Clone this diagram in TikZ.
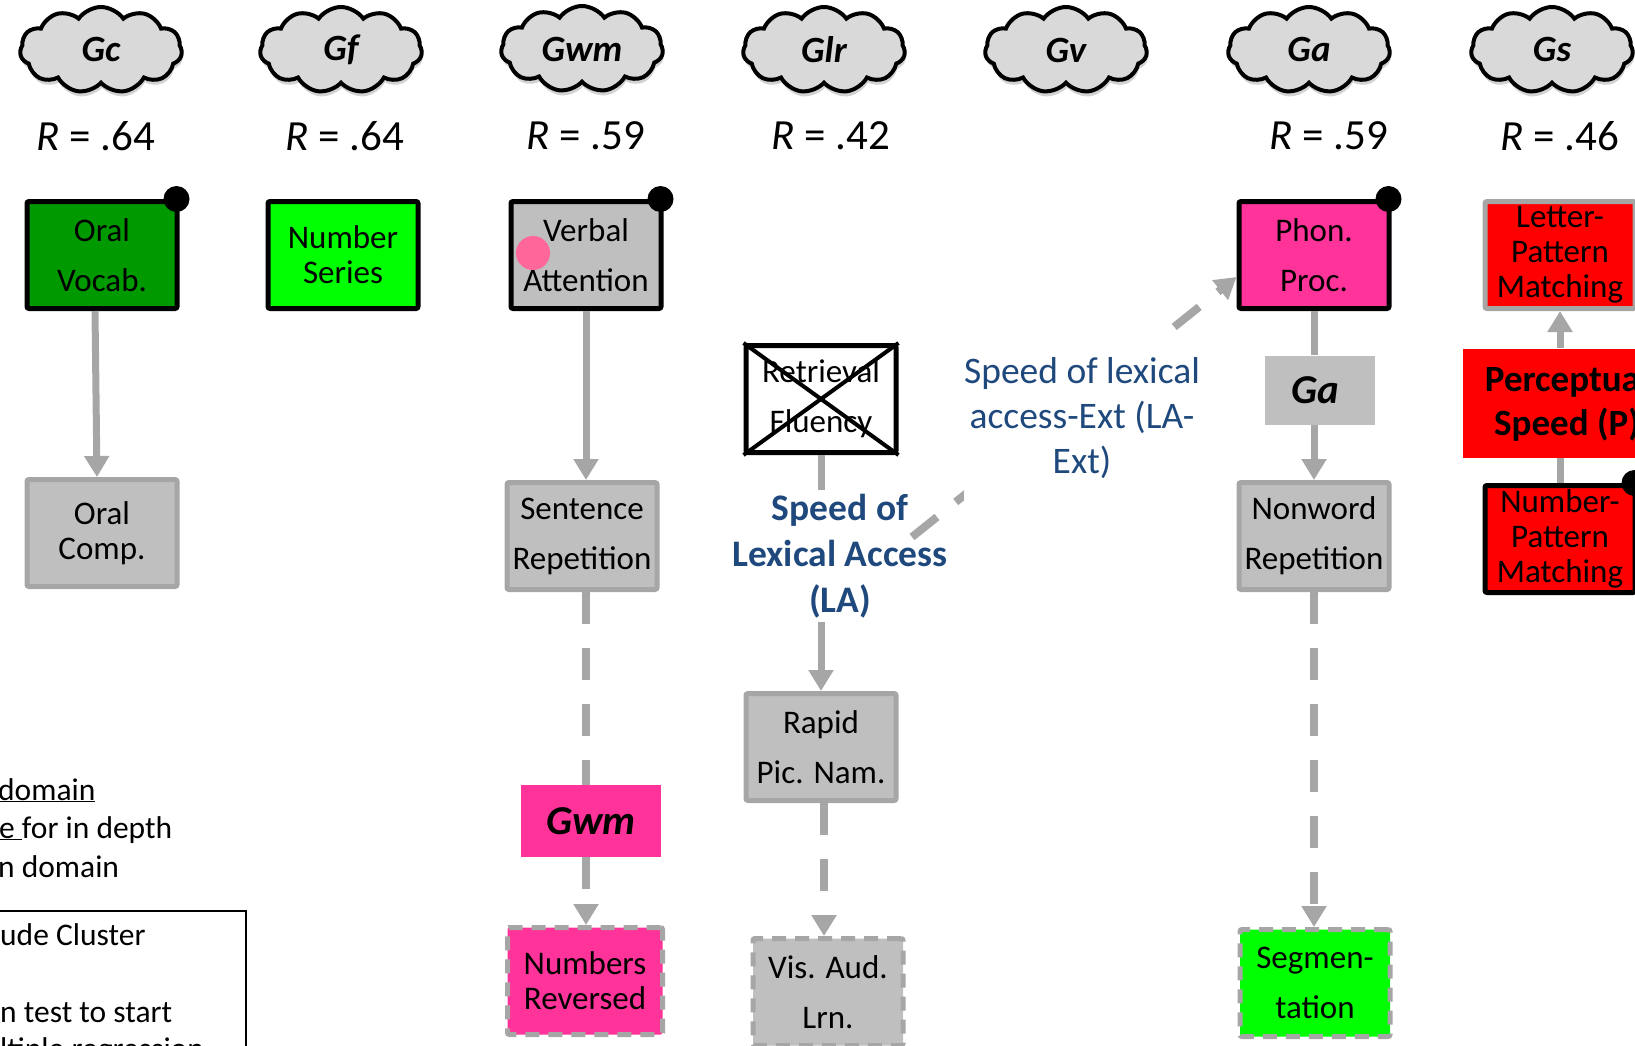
\documentclass[tikz,border=0pt]{standalone}
\usepackage{fontspec}
\setmainfont{Carlito}
\usetikzlibrary{arrows.meta,shapes.symbols,shadows}
\definecolor{cloudgray}{RGB}{217,217,217}
\definecolor{boxgray}{RGB}{191,191,191}
\definecolor{linegray}{RGB}{166,166,166}
\definecolor{darkgreen}{RGB}{0,153,0}
\definecolor{brightgreen}{RGB}{0,255,0}
\definecolor{hotpink}{RGB}{255,51,153}
\definecolor{dotpink}{RGB}{255,102,153}
\definecolor{lablue}{RGB}{31,73,125}

\tikzset{
  ability/.style={cloud, cloud puffs=11, cloud puff arc=110, aspect=2, draw=black, line width=4pt,
    fill=cloudgray, minimum width=162pt, minimum height=86pt, inner sep=0pt,
    drop shadow={shadow xshift=1pt, shadow yshift=-5pt, opacity=0.35},
    font=\fontsize{37}{37}\selectfont\bfseries\itshape},
  rlabel/.style={inner sep=0pt, font=\fontsize{43}{43}\selectfont},
  testbox/.style={rectangle, rounded corners=2pt, line width=5pt, minimum width=150pt,
    minimum height=107pt, inner sep=0pt, align=center, font=\fontsize{33}{50}\selectfont},
  tightbox/.style={font=\fontsize{33}{35}\selectfont},
  corebox/.style={testbox, draw=black},
  suppbox/.style={testbox, draw=linegray},
  extbox/.style={testbox, draw=linegray, dash pattern=on 14pt off 9pt},
  clusterbox/.style={rectangle, inner sep=0pt, font=\fontsize{41}{41}\selectfont\bfseries\itshape},
  linkline/.style={draw=linegray, line width=7pt},
  linkarrow/.style={linkline, -{Triangle[width=24pt,length=21pt]}},
  dashline/.style={draw=linegray, line width=8pt, dash pattern=on 32pt off 24pt},
  dasharrow/.style={dashline, -{Triangle[width=24pt,length=21pt]}},
  legendtext/.style={anchor=base west, inner sep=0pt, font=\fontsize{31.5}{37}\selectfont}
}

\begin{document}
\begin{tikzpicture}[x=1pt,y=-1pt]
\useasboundingbox (0,0) rectangle (1635,1046);

% broad abilities
\node[ability] (gc) at (101,50) {Gc};
\node[ability] (gf) at (341,50) {Gf};
\node[ability] (gwm) at (582,49) {Gwm};
\node[ability] (glr) at (824,50) {Glr};
\node[ability] (gv) at (1066,50) {Gv};
\node[ability] (ga) at (1309,50) {Ga};
\node[ability] (gs) at (1552,50) {Gs};

\node[rlabel] (rgc) at (96,136) {\textit{R} = .64};
\node[rlabel] (rgf) at (345,136) {\textit{R} = .64};
\node[rlabel] (rgwm) at (586,136) {\textit{R} = .59};
\node[rlabel] (rglr) at (831,136) {\textit{R} = .42};
\node[rlabel] (rga) at (1329,136) {\textit{R} = .59};
\node[rlabel] (rgs) at (1560,136) {\textit{R} = .46};

% tests
\node[corebox, fill=darkgreen] (ovocab) at (102,255) {Oral\\Vocab.};
\node[corebox, fill=brightgreen, tightbox] (numser) at (343,255) {Number\\Series};
\node[corebox, fill=boxgray] (verbal) at (586,255) {Verbal\\Attention};
\node[corebox, fill=hotpink] (phon) at (1314,255) {Phon.\\Proc.};
\node[suppbox, fill=red, tightbox] (letpat) at (1560,255) {Letter-\\Pattern\\Matching};
\node[rectangle, fill=red, minimum width=208pt, minimum height=109pt, inner sep=0pt, align=center,
  font=\fontsize{37}{44}\selectfont\bfseries] (percspeed) at (1567,403) {Perceptual\\Speed (P)};
\node[corebox, fill=red, tightbox] (numpat) at (1560,539) {Number-\\Pattern\\Matching};

\node[suppbox, fill=boxgray, tightbox] (ocomp) at (102,533) {Oral\\Comp.};
\node[suppbox, fill=boxgray] (sentrep) at (582,536) {Sentence\\Repetition};
\node[corebox, fill=white] (retr) at (821,399) {Retrieval\\Fluency};
\node[align=center, inner sep=4pt, text=lablue, font=\fontsize{37.5}{46}\selectfont\bfseries] (la) at (840,556)
  {Speed of\\Lexical Access\\(LA)};
\node[clusterbox, fill=boxgray, minimum width=110pt, minimum height=69pt] (gabox) at (1320,390) {Ga\hspace*{10pt}};
\node[suppbox, fill=boxgray] (nonword) at (1314,536) {Nonword\\Repetition};
\node[clusterbox, fill=hotpink, minimum width=140pt, minimum height=72pt] (gwmbox) at (591,821) {Gwm};
\node[extbox, fill=hotpink, tightbox, minimum width=155pt] (numrev) at (585,981) {Numbers\\Reversed};
\node[suppbox, fill=boxgray] (rapid) at (821,747) {Rapid\\Pic. Nam.};
\node[extbox, fill=boxgray] (visaud) at (828,992) {Vis. Aud.\\Lrn.};
\node[extbox, fill=brightgreen] (segm) at (1315,983) {Segmen-\\tation};

\fill ([xshift=-3pt]ovocab.north east) circle (13pt);
\fill ([xshift=-3pt]verbal.north east) circle (13pt);
\fill ([xshift=-3pt]phon.north east) circle (13pt);
\fill ([xshift=-3pt]numpat.north east) circle (13pt);
\fill[dotpink] (533,253) circle (17pt);
\draw[line width=4pt] (retr.north west) -- (retr.south east);
\draw[line width=4pt] (retr.north east) -- (retr.south west);

% links
\draw[linkarrow] ([xshift=-7pt]ovocab.south) -- ([xshift=-5pt]ocomp.north);
\draw[linkarrow] (verbal.south) -- (verbal.south |- sentrep.north);
\draw[dashline] (sentrep.south -| verbal.south) -- (gwmbox.north -| verbal.south);
\draw[dasharrow] (gwmbox.south -| verbal.south) -- (numrev.north -| verbal.south);
\draw[linkline] (retr.south) -- (retr.south |- la.north);
\draw[linkarrow] (la.south -| rapid.north) -- (rapid.north);
\draw[dasharrow] ([xshift=3pt]rapid.south) -- ([xshift=3pt]rapid.south |- visaud.north);
\draw[linkline] (phon.south) -- (phon.south |- gabox.north);
\draw[linkarrow] (gabox.south -| nonword.north) -- (nonword.north);
\draw[dasharrow] (nonword.south) -- (nonword.south |- segm.north);
\draw[linkarrow] (percspeed.north -| letpat.south) -- (letpat.south);
\draw[linkline] (numpat.north) -- (numpat.north |- percspeed.south);
\coordinate (lastart) at (912,537);
\draw[dasharrow] (lastart) -- ([yshift=-22pt]phon.west);
\node[fill=white, align=center, inner sep=0pt, minimum width=236pt, minimum height=164pt, text=lablue,
  font=\fontsize{37.5}{45}\selectfont] (laext) at (1082,418) {Speed of lexical\\access-Ext (LA-\\Ext)};

% legend (cut off at the left)
\node[legendtext] (leg1) at (-2,800) {\underline{domain}};
\node[legendtext] (leg2) at (-1,838) {\underline{e\ }for in depth};
\node[legendtext] (leg3) at (-2,877) {n domain};
\draw[line width=2.5pt] (-10,911) rectangle (246,1100);
\node[legendtext] (leg4) at (0,945) {ude Cluster};
\node[legendtext] (leg5) at (0,1022) {n test to start};
\node[legendtext] (leg6) at (0,1059) {ltiple regression};
\end{tikzpicture}
\end{document}
